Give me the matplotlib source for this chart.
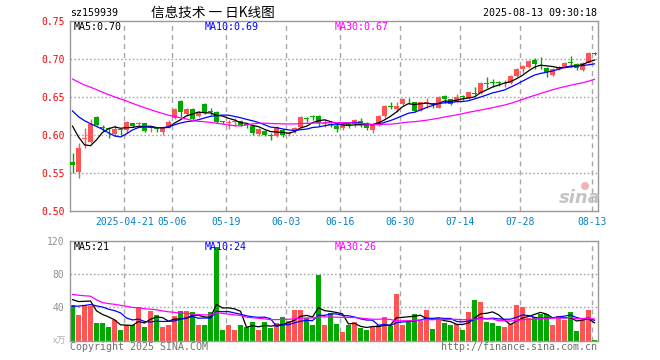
import numpy as np
import pandas as pd
import matplotlib
matplotlib.use("Agg")
import matplotlib.pyplot as plt
from matplotlib.patches import Ellipse

# ---------------- data ----------------
holidays = ["2025-05-01", "2025-05-02", "2025-05-05", "2025-06-02"]
dates = [d for d in pd.bdate_range("2025-04-08", "2025-08-13") if d.strftime("%Y-%m-%d") not in holidays]

opens = [0.5653, 0.5522, 0.5950, 0.5908, 0.6246, 0.6110, 0.6087, 0.6018, 0.6072, 0.6075,
         0.6158, 0.6146, 0.6158, 0.6090, 0.6089, 0.6048, 0.6100, 0.6223, 0.6452, 0.6280,
         0.6346, 0.6259, 0.6412, 0.6313, 0.6305, 0.6177, 0.6162, 0.6176, 0.6188, 0.6138,
         0.6122, 0.6022, 0.6058, 0.6000, 0.5990, 0.6075, 0.6015, 0.6065, 0.6114, 0.6220,
         0.6248, 0.6254, 0.6155, 0.6140, 0.6127, 0.6092, 0.6140, 0.6144, 0.6188, 0.6158,
         0.6070, 0.6136, 0.6254, 0.6380, 0.6346, 0.6412, 0.6462, 0.6434, 0.6333, 0.6419,
         0.6410, 0.6364, 0.6513, 0.6474, 0.6443, 0.6502, 0.6487, 0.6556, 0.6552, 0.6688,
         0.6697, 0.6697, 0.6680, 0.6684, 0.6780, 0.6873, 0.6895, 0.6991, 0.6916, 0.6881,
         0.6794, 0.6868, 0.6903, 0.6960, 0.6934, 0.6860, 0.6956, 0.7080]
closes = [0.5615, 0.5838, 0.5958, 0.6155, 0.6136, 0.6100, 0.6080, 0.6079, 0.6068, 0.6175,
          0.6118, 0.6150, 0.6061, 0.6094, 0.6085, 0.6100, 0.6180, 0.6346, 0.6311, 0.6346,
          0.6215, 0.6311, 0.6295, 0.6308, 0.6179, 0.6172, 0.6166, 0.6180, 0.6140, 0.6133,
          0.6030, 0.6087, 0.6000, 0.5995, 0.6105, 0.6004, 0.6035, 0.6100, 0.6245, 0.6212,
          0.6242, 0.6158, 0.6160, 0.6132, 0.6083, 0.6144, 0.6132, 0.6197, 0.6136, 0.6100,
          0.6136, 0.6254, 0.6386, 0.6375, 0.6386, 0.6478, 0.6458, 0.6324, 0.6434, 0.6423,
          0.6406, 0.6509, 0.6482, 0.6412, 0.6500, 0.6498, 0.6566, 0.6548, 0.6693, 0.6680,
          0.6690, 0.6690, 0.6688, 0.6780, 0.6873, 0.6912, 0.6982, 0.6938, 0.6908, 0.6829,
          0.6868, 0.6903, 0.6947, 0.6952, 0.6890, 0.6956, 0.7079, 0.7072]
highs = [0.5763, 0.5895, 0.6092, 0.6215, 0.6255, 0.6136, 0.6105, 0.6136, 0.6080, 0.6185,
         0.6167, 0.6180, 0.6167, 0.6127, 0.6105, 0.6114, 0.6200, 0.6364, 0.6465, 0.6364,
         0.6355, 0.6325, 0.6420, 0.6355, 0.6324, 0.6188, 0.6201, 0.6223, 0.6195, 0.6150,
         0.6135, 0.6090, 0.6075, 0.6030, 0.6120, 0.6083, 0.6048, 0.6115, 0.6258, 0.6245,
         0.6267, 0.6262, 0.6210, 0.6158, 0.6149, 0.6158, 0.6171, 0.6215, 0.6232, 0.6180,
         0.6158, 0.6267, 0.6399, 0.6434, 0.6434, 0.6487, 0.6487, 0.6443, 0.6443, 0.6496,
         0.6430, 0.6520, 0.6531, 0.6480, 0.6540, 0.6530, 0.6575, 0.6640, 0.6706, 0.6763,
         0.6737, 0.6720, 0.6728, 0.6790, 0.6880, 0.6925, 0.6990, 0.7013, 0.7026, 0.6895,
         0.6881, 0.6916, 0.6960, 0.7044, 0.6947, 0.6970, 0.7090, 0.7095]
lows = [0.5500, 0.5434, 0.5829, 0.5905, 0.6128, 0.6057, 0.5960, 0.5990, 0.6004, 0.6035,
        0.6110, 0.6114, 0.6039, 0.6048, 0.6048, 0.6004, 0.6092, 0.6215, 0.6245, 0.6259,
        0.6201, 0.6245, 0.6280, 0.6267, 0.6157, 0.6148, 0.6079, 0.6127, 0.6125, 0.6092,
        0.6003, 0.5995, 0.5985, 0.5938, 0.5975, 0.5975, 0.5985, 0.6035, 0.6100, 0.6171,
        0.6197, 0.6120, 0.6114, 0.6114, 0.6048, 0.6070, 0.6100, 0.6114, 0.6114, 0.6065,
        0.6026, 0.6125, 0.6232, 0.6342, 0.6311, 0.6399, 0.6412, 0.6311, 0.6320, 0.6355,
        0.6355, 0.6355, 0.6421, 0.6400, 0.6435, 0.6464, 0.6478, 0.6530, 0.6543, 0.6627,
        0.6631, 0.6653, 0.6640, 0.6675, 0.6770, 0.6824, 0.6880, 0.6868, 0.6868, 0.6763,
        0.6781, 0.6855, 0.6890, 0.6903, 0.6855, 0.6846, 0.6950, 0.7060]
volumes = [42.4, 30.4, 43.4, 42.0, 20.8, 20.8, 16.0, 25.4, 12.4, 18.4,
           19.4, 40.0, 16.0, 35.2, 31.4, 16.0, 18.4, 29.2, 35.2, 35.2,
           34.0, 18.4, 19.4, 34.0, 112.0, 12.4, 19.4, 13.4, 19.4, 16.0,
           22.0, 12.4, 22.0, 14.8, 20.8, 28.0, 23.2, 36.4, 37.4, 26.8,
           18.4, 79.4, 18.4, 32.8, 20.0, 10.4, 18.8, 22.0, 15.2, 12.8,
           16.4, 18.8, 28.4, 18.0, 56.0, 18.8, 22.4, 31.6, 24.0, 36.4,
           13.6, 25.2, 20.8, 18.8, 19.6, 12.8, 34.4, 48.4, 46.4, 22.4,
           21.2, 17.2, 16.0, 20.0, 42.4, 40.4, 26.8, 28.0, 32.4, 32.0,
           18.8, 29.2, 24.8, 34.0, 11.6, 24.4, 36.4, 0.8]

# estimated history before the first visible day (needed for the moving averages)
prior_closes = [0.705, 0.712, 0.700, 0.708, 0.715, 0.702, 0.696, 0.690, 0.698, 0.705,
                0.700, 0.692, 0.685, 0.688, 0.680, 0.690, 0.686, 0.683, 0.680, 0.685,
                0.660, 0.648, 0.655, 0.650, 0.647, 0.655, 0.648, 0.621, 0.575]
prior_volumes = [60, 62, 58, 150, 120, 55, 50, 48, 55, 60,
                 52, 50, 55, 50, 58, 48, 52, 55, 50, 64,
                 30, 35, 32, 36, 35, 42, 42, 40, 80]

tick_dates = ["2025-04-21", "2025-05-06", "2025-05-19", "2025-06-03", "2025-06-16",
              "2025-06-30", "2025-07-14", "2025-07-28", "2025-08-13"]
tick_labels = ["2025-04-21", "05-06", "05-19", "06-03", "06-16", "06-30", "07-14", "07-28", "08-13"]
price_ticks = [0.50, 0.55, 0.60, 0.65, 0.70, 0.75]
vol_ticks = [40, 80, 120]

# ---------------- helpers ----------------
W, H = 660, 360
RED = "#ff5454"
GREEN = "#00a800"
GRID = "#a8a8a8"
SPINE = "#999999"
MONO = "DejaVu Sans Mono"


def fx(x):
    return x / W


def fy(y):
    return 1 - y / H


def ma(series, prior, n):
    full = np.r_[np.asarray(prior, float), np.asarray(series, float)]
    return np.convolve(full, np.ones(n) / n, mode="valid")[-len(series):]


n = len(closes)
x = np.arange(n)
o = np.array(opens); c = np.array(closes); hi = np.array(highs); lo = np.array(lows)
v = np.array(volumes)
up = c >= o
colors = np.where(up, RED, GREEN)

date_str = [d.strftime("%Y-%m-%d") for d in dates]
tick_pos = [date_str.index(t) - 0.35 for t in tick_dates]

fig = plt.figure(figsize=(W / 100, H / 100), dpi=100)
fig.patch.set_facecolor("white")

x_left, x_right = 70, 597.5
ax = fig.add_axes([fx(x_left), fy(211.3), fx(x_right - x_left), (211.3 - 21.3) / H])
axv = fig.add_axes([fx(x_left), fy(340.7), fx(x_right - x_left), (340.7 - 240.7) / H])

xlim = (-0.42, n - 0.5)
for a in (ax, axv):
    a.set_xlim(*xlim)
    for s in a.spines.values():
        s.set_color(SPINE)
        s.set_linewidth(1.0)
    a.tick_params(length=0)
    for t in tick_pos:
        a.axvline(t, color=GRID, lw=1.0, dashes=(3.6, 2.9), zorder=0)

# ---------------- price panel ----------------
ax.set_ylim(0.50, 0.75)
for p in price_ticks[1:-1]:
    ax.axhline(p, color=GRID, lw=1.0, dashes=(1.2, 1.6), zorder=0)
ax.vlines(x, lo, hi, colors=colors, lw=1.0, zorder=2)
body_lo = np.minimum(o, c)
body_h = np.maximum(np.abs(c - o), 0.0013)
ax.bar(x, body_h, bottom=body_lo, width=0.8, color=colors, lw=0, zorder=3)

ma5 = ma(closes, prior_closes, 5)
ma10 = ma(closes, prior_closes, 10)
ma30 = ma(closes, prior_closes, 30)
ax.plot(x, ma5, color="black", lw=0.9, zorder=4)
ax.plot(x, ma10, color="#0000ff", lw=0.9, zorder=4)
ax.plot(x, ma30, color="#ff00ff", lw=0.9, zorder=4)

ax.set_yticks(price_ticks)
ax.set_yticklabels([f"{p:.2f}" for p in price_ticks], color="#ff0000", fontfamily=MONO, fontsize=7)
ax.tick_params(axis="y", pad=4)
ax.set_xticks(tick_pos)
ax.set_xticklabels(tick_labels, color="#0080c8", fontfamily=MONO, fontsize=7)
ax.tick_params(axis="x", pad=4)

# ---------------- volume panel ----------------
axv.set_ylim(0, 120)
for p in vol_ticks[:-1]:
    axv.axhline(p, color=GRID, lw=1.0, dashes=(1.2, 1.6), zorder=0)
axv.bar(x, v, width=0.83, color=colors, lw=0, zorder=2)
vma5 = ma(volumes, prior_volumes, 5)
vma10 = ma(volumes, prior_volumes, 10)
vma30 = ma(volumes, prior_volumes, 30)
axv.plot(x, vma5, color="black", lw=0.9, zorder=4)
axv.plot(x, vma10, color="#0000ff", lw=0.9, zorder=4)
axv.plot(x, vma30, color="#ff00ff", lw=0.9, zorder=4)
axv.set_yticks(vol_ticks)
axv.set_yticklabels([str(t) for t in vol_ticks], color="#909090", fontfamily=MONO, fontsize=7)
axv.tick_params(axis="y", pad=4)
axv.set_xticks([])

# ---------------- texts ----------------
fig.text(fx(70), fy(13), "sz159939", fontfamily=MONO, fontsize=7.2, va="center", ha="left", color="black")
fig.text(fx(213), fy(12.5), "信息技术 一 日K线图", fontfamily=["Noto Sans CJK SC", "DejaVu Sans"],
         fontsize=9.8, va="center", ha="center", color="black")
fig.text(fx(597), fy(13), "2025-08-13 09:30:18", fontfamily=MONO, fontsize=7.2, va="center", ha="right",
         color="black")

fig.text(fx(74), fy(26.5), f"MA5:{ma5[-1]:.2f}", fontfamily=MONO, fontsize=7.2, va="center", color="black")
fig.text(fx(205), fy(26.5), f"MA10:{ma10[-1]:.2f}", fontfamily=MONO, fontsize=7.2, va="center", color="#0000ff")
fig.text(fx(334.5), fy(26.5), f"MA30:{ma30[-1]:.2f}", fontfamily=MONO, fontsize=7.2, va="center", color="#ff00ff")

fig.text(fx(74), fy(246.5), f"MA5:{vma5[-1]:.0f}", fontfamily=MONO, fontsize=7.2, va="center", color="black")
fig.text(fx(205), fy(246.5), f"MA10:{vma10[-1]:.0f}", fontfamily=MONO, fontsize=7.2, va="center", color="#0000ff")
fig.text(fx(334.5), fy(246.5), f"MA30:{vma30[-1]:.0f}", fontfamily=MONO, fontsize=7.2, va="center",
         color="#ff00ff")

fig.text(fx(66), fy(341.5), "x万", fontfamily=["Noto Sans CJK SC", "DejaVu Sans"], fontsize=6.5,
         va="center", ha="right", color="#b0b0b0")
fig.text(fx(70), fy(346.5), "Copyright 2025 SINA.COM", fontfamily=MONO, fontsize=7.2, va="center",
         ha="left", color="#707070")
fig.text(fx(597), fy(346.5), "http://finance.sina.com.cn", fontfamily=MONO, fontsize=7.2, va="center",
         ha="right", color="#707070")

# watermark
fig.text(fx(580), fy(198), "sina", fontfamily="DejaVu Sans", fontsize=13, fontweight="bold",
         fontstyle="italic", va="center", ha="center", color="#c4c4c4", zorder=1)
fig.add_artist(Ellipse((fx(585), fy(186)), 8 / W, 8 / H, transform=fig.transFigure,
                       facecolor="#f0b4b4", edgecolor="none", zorder=1))

fig.savefig("out.png", dpi=100, facecolor="white")
